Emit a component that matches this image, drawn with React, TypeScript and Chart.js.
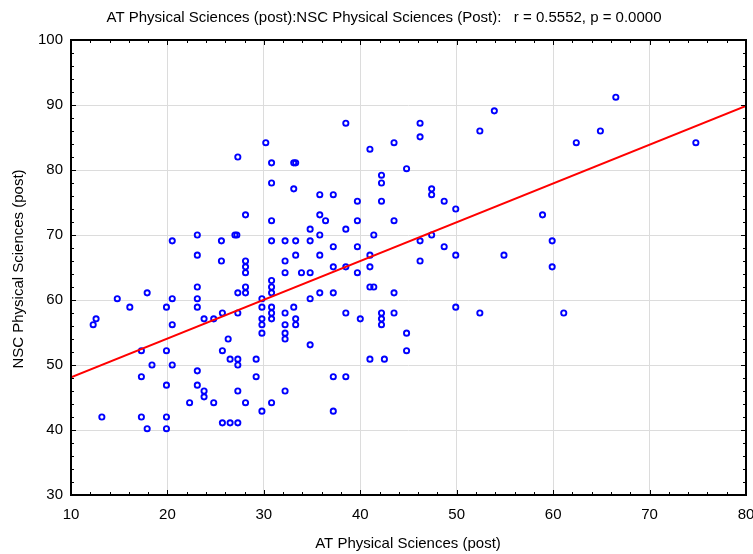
import { useEffect, useRef } from "react";
import { Chart, registerables } from "chart.js";

Chart.register(...registerables);

const TITLE = "AT Physical Sciences (post):NSC Physical Sciences (Post):   r = 0.5552, p = 0.0000";
const X_LABEL = "AT Physical Sciences (post)";
const Y_LABEL = "NSC Physical Sciences (post)";

// Axis ranges and tick spacing
const X_RANGE = [10, 80];
const Y_RANGE = [30, 100];
const MAJOR_STEP = 10;
const MINOR_STEP = 2;

// AT Physical Sciences (post) score per learner
const atPost = [
  20.5, 23.1, 23.1, 25.6, 25.6, 27.3, 27.0, 27.2, 28.1, 28.1, 28.1, 30.2, 30.8, 30.8, 30.8, 30.8,
  33.1, 33.3, 33.1, 32.2, 33.3, 34.8, 32.2, 33.3, 34.8,
  38.5, 35.8, 37.2, 35.8, 36.4, 35.8, 38.5, 37.2, 35.8, 37.2, 38.5, 39.7, 39.7, 39.7, 41.0, 41.0,
  41.0, 41.4, 42.2, 42.2, 42.2, 43.5, 43.5, 44.8, 46.2, 46.2, 46.2, 46.2, 47.4, 47.4, 47.4, 48.7,
  48.7, 49.9, 49.9, 52.4, 53.9, 54.9, 58.9, 59.9,
  66.5, 64.9, 62.4, 74.8, 59.9,
  12.3, 12.6, 13.2, 14.8, 16.1, 17.9, 17.3, 18.4, 17.3, 17.3, 17.9, 19.9, 20.5, 20.5, 19.9, 20.5,
  19.9, 19.9, 19.9, 23.1, 23.1, 23.1, 23.8, 24.8, 25.7, 26.3, 25.7, 26.5, 27.3, 27.3, 23.1, 23.1,
  23.8, 23.8, 22.3, 24.8, 25.7, 26.5, 27.3, 27.3, 28.1, 27.3, 27.3, 28.1, 28.1, 28.1, 29.2, 29.2,
  29.8, 29.8, 29.8, 29.8, 29.8, 29.8, 30.8, 30.8, 30.8, 30.8, 30.8, 30.8, 30.8, 32.2, 33.9, 34.8,
  32.2, 33.1, 32.2, 32.2, 32.2, 33.3, 33.3, 32.2, 34.8, 34.8,
  39.7, 35.8, 37.2, 41.0, 41.4, 43.5, 38.5, 40.0, 42.2, 42.2, 42.2, 43.5, 44.8, 44.8, 41.0, 42.5,
  37.2, 38.5, 37.2, 49.9, 52.4, 61.1,
];

// NSC Physical Sciences (post) score per learner
const nscPost = [
  69.1, 70.0, 66.9, 69.1, 66.0, 82.0, 70.0, 70.0, 73.1, 66.0, 65.1, 84.2, 81.1, 78.0, 72.2, 69.1,
  81.1, 81.1, 77.1, 69.1, 69.1, 69.1, 66.0, 66.9, 70.9,
  87.2, 76.2, 76.2, 73.1, 72.2, 70.0, 70.9, 68.2, 66.9, 65.1, 65.1, 75.2, 72.2, 68.2, 83.2, 66.9,
  65.1, 70.0, 79.2, 78.0, 75.2, 84.2, 72.2, 80.2, 87.2, 85.1, 69.1, 66.0, 77.1, 76.2, 70.0, 75.2,
  68.2, 74.0, 66.9, 86.0, 89.1, 66.9, 73.1, 69.1,
  91.2, 86.0, 84.2, 84.2, 65.1,
  56.2, 57.1, 42.0, 60.2, 58.9, 61.1, 52.2, 50.0, 48.2, 42.0, 40.2, 58.9, 60.2, 56.2, 52.2, 50.0,
  46.9, 42.0, 40.2, 62.0, 60.2, 58.9, 57.1, 57.1, 58.0, 54.0, 52.2, 50.9, 50.9, 50.0, 49.1, 46.9,
  46.0, 45.1, 44.2, 44.2, 41.1, 41.1, 41.1, 46.0, 44.2, 58.0, 61.1, 61.1, 62.0, 64.2, 50.9, 48.2,
  42.9, 60.2, 58.9, 57.1, 56.2, 54.9, 63.0, 62.0, 61.1, 58.9, 58.0, 57.1, 44.2, 64.2, 64.2, 64.2,
  58.0, 58.9, 56.2, 54.9, 54.0, 57.1, 56.2, 46.0, 60.2, 53.1,
  64.2, 61.1, 61.1, 62.0, 62.0, 61.1, 58.0, 57.1, 58.0, 57.1, 56.2, 58.0, 54.9, 52.2, 50.9, 50.9,
  48.2, 48.2, 42.9, 58.9, 58.0, 58.0,
];

// Least-squares fit line, value at each end of the x range
const fitX = [10, 80];
const fitY = [48.1, 89.85];

const FONT = "'Liberation Sans', Arial, sans-serif";

const frameAndLabels = {
  id: "frameAndLabels",
  afterDraw(chart: any) {
    const { ctx, chartArea: a, scales } = chart;
    const xs = scales.x;
    const ys = scales.y;
    ctx.save();
    ctx.strokeStyle = "#000";
    ctx.lineWidth = 1;
    ctx.beginPath();
    for (let v = X_RANGE[0]; v <= X_RANGE[1] + 1e-9; v += MINOR_STEP) {
      const px = Math.round(xs.getPixelForValue(v)) + 0.5;
      const len = v % MAJOR_STEP === 0 ? 5 : 3;
      ctx.moveTo(px, a.bottom);
      ctx.lineTo(px, a.bottom - len);
      ctx.moveTo(px, a.top);
      ctx.lineTo(px, a.top + len);
    }
    for (let v = Y_RANGE[0]; v <= Y_RANGE[1] + 1e-9; v += MINOR_STEP) {
      const py = Math.round(ys.getPixelForValue(v)) + 0.5;
      const len = v % MAJOR_STEP === 0 ? 5 : 3;
      ctx.moveTo(a.left, py);
      ctx.lineTo(a.left + len, py);
      ctx.moveTo(a.right, py);
      ctx.lineTo(a.right - len, py);
    }
    ctx.stroke();
    ctx.lineWidth = 2;
    ctx.strokeRect(a.left, a.top, a.right - a.left, a.bottom - a.top);

    ctx.fillStyle = "#000";
    ctx.textAlign = "center";
    ctx.textBaseline = "middle";
    ctx.font = `15px ${FONT}`;
    ctx.fillText(TITLE, 384, 18);
    ctx.fillText(X_LABEL, 408, 544);
    ctx.translate(19, 269);
    ctx.rotate(-Math.PI / 2);
    ctx.fillText(Y_LABEL, 0, 0);
    ctx.restore();
  },
};

export default function App() {
  const canvasRef = useRef<HTMLCanvasElement | null>(null);

  useEffect(() => {
    const canvas = canvasRef.current;
    if (!canvas) return;
    const points = atPost.map((x, i) => ({ x, y: nscPost[i] }));
    const fit = fitX.map((x, i) => ({ x, y: fitY[i] }));
    const chart = new Chart(canvas, {
      type: "scatter",
      data: {
        datasets: [
          {
            type: "line",
            data: fit,
            borderColor: "#ff0000",
            borderWidth: 2,
            pointRadius: 0,
            fill: false,
            order: 0,
          } as any,
          {
            data: points,
            pointStyle: "circle",
            pointRadius: 2.6,
            borderWidth: 1.9,
            borderColor: "#0000ff",
            backgroundColor: "rgba(255,255,255,0)",
            order: 1,
          },
        ],
      },
      options: {
        responsive: false,
        animation: false,
        devicePixelRatio: 1,
        layout: { padding: { left: 0, right: 7, top: 40, bottom: 0 } },
        plugins: {
          legend: { display: false },
          tooltip: { enabled: false },
          title: { display: false },
        },
        scales: {
          x: {
            type: "linear",
            min: X_RANGE[0],
            max: X_RANGE[1],
            border: { display: false },
            grid: { color: "#dcdcdc", lineWidth: 1, drawTicks: false },
            ticks: {
              stepSize: MAJOR_STEP,
              color: "#000",
              padding: 11,
              maxRotation: 0,
              autoSkip: false,
              font: { family: FONT, size: 15 },
            },
            afterFit(scale: any) {
              scale.height = 59;
              scale.paddingLeft = 0;
              scale.paddingRight = 0;
            },
          },
          y: {
            type: "linear",
            min: Y_RANGE[0],
            max: Y_RANGE[1],
            border: { display: false },
            grid: { color: "#dcdcdc", lineWidth: 1, drawTicks: false },
            ticks: {
              stepSize: MAJOR_STEP,
              color: "#000",
              padding: 8,
              autoSkip: false,
              font: { family: FONT, size: 15 },
            },
            afterFit(scale: any) {
              scale.width = 71;
              scale.paddingTop = 0;
              scale.paddingBottom = 0;
            },
          },
        },
      },
      plugins: [frameAndLabels],
    });
    return () => chart.destroy();
  }, []);

  return (
    <div style={{ position: "absolute", left: 0, top: 0, width: 753, height: 554, background: "#fff" }}>
      <canvas ref={canvasRef} width={753} height={554} style={{ display: "block" }} />
    </div>
  );
}
